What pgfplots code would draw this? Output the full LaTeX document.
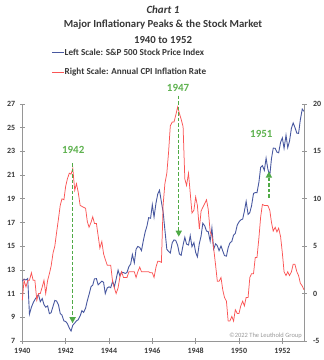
\documentclass[border=0pt]{standalone}
\usepackage{pgfplots}
\pgfplotsset{compat=1.18}
\usepackage{pgfplotstable}
\usetikzlibrary{arrows.meta}
\usepackage{fontspec}
\setmainfont{Carlito}
\definecolor{spblue}{RGB}{72,88,160}
\definecolor{cpired}{RGB}{250,85,85}
\definecolor{agreen}{RGB}{80,170,70}
\definecolor{tgreen}{RGB}{95,178,80}
\definecolor{axgray}{RGB}{150,150,150}
\definecolor{txt}{RGB}{55,55,55}

\pgfplotstableread{
t sp cpi
1940.00 12.05 -0.7
1940.08 12.22 1.4
1940.17 12.15 0.7
1940.25 12.27 1.4
1940.33 9.27 1.4
1940.42 9.85 2.2
1940.50 10.21 1.4
1940.58 10.50 1.4
1940.67 10.73 -0.7
1940.75 10.91 0.0
1940.83 10.32 0.0
1940.92 10.58 0.7
1941.00 10.07 1.4
1941.08 9.85 0.0
1941.17 9.96 1.4
1941.25 9.31 2.1
1941.33 9.39 2.9
1941.42 9.94 4.3
1941.50 10.42 5.0
1941.58 10.38 6.4
1941.67 10.04 7.9
1941.75 9.32 9.3
1941.83 9.19 10.0
1941.92 8.69 9.9
1942.00 8.65 11.3
1942.08 8.47 12.1
1942.17 8.09 12.7
1942.25 7.84 12.6
1942.33 8.33 13.2
1942.42 8.52 10.9
1942.50 8.70 11.6
1942.58 8.79 10.7
1942.67 9.12 9.3
1942.75 9.56 9.2
1942.83 9.41 9.1
1942.92 9.77 9.0
1943.00 10.40 7.6
1943.08 10.92 7.0
1943.17 11.58 7.5
1943.25 11.71 8.1
1943.33 12.25 7.4
1943.42 12.26 7.4
1943.50 11.74 6.1
1943.58 11.88 4.8
1943.67 12.05 5.5
1943.75 11.96 4.2
1943.83 11.00 3.6
1943.92 11.48 3.0
1944.00 11.57 3.0
1944.08 11.50 3.0
1944.17 12.05 1.2
1944.25 11.57 0.6
1944.33 12.22 0.0
1944.42 12.98 0.6
1944.50 12.51 1.7
1944.58 12.81 2.3
1944.67 12.77 1.7
1944.75 12.70 1.7
1944.83 12.78 1.7
1944.92 13.28 2.3
1945.00 13.49 2.3
1945.08 14.30 2.3
1945.17 13.60 2.3
1945.25 14.74 1.7
1945.33 14.98 2.3
1945.42 14.89 2.8
1945.50 14.63 2.3
1945.58 15.42 2.3
1945.67 16.20 2.3
1945.75 16.68 2.3
1945.83 17.41 2.3
1945.92 17.36 2.2
1946.00 18.50 2.2
1946.08 17.46 1.7
1946.17 18.64 2.8
1946.25 19.40 3.4
1946.33 19.72 3.4
1946.42 18.73 3.3
1946.50 17.87 9.4
1946.58 16.39 11.6
1946.67 14.73 12.7
1946.75 14.57 14.9
1946.83 14.42 17.7
1946.92 15.30 18.1
1947.00 15.53 18.1
1947.08 15.49 18.8
1947.17 15.07 19.7
1947.25 14.34 19.0
1947.33 14.23 18.4
1947.42 15.09 17.6
1947.50 15.75 12.1
1947.58 15.18 11.4
1947.67 15.10 12.7
1947.75 15.89 10.6
1947.83 14.96 8.5
1947.92 15.30 8.8
1948.00 14.48 10.2
1948.08 14.10 9.3
1948.17 15.23 6.8
1948.25 15.85 8.7
1948.33 16.94 9.1
1948.42 16.71 9.5
1948.50 16.28 9.9
1948.58 16.23 8.9
1948.67 15.43 6.5
1948.75 16.54 6.1
1948.83 14.75 4.8
1948.92 15.20 3.0
1949.00 15.04 1.3
1949.08 14.62 1.3
1949.17 15.02 1.7
1949.25 14.60 0.4
1949.33 14.21 -0.4
1949.42 14.16 -0.8
1949.50 14.87 -2.9
1949.58 15.27 -2.9
1949.67 15.41 -2.4
1949.75 15.94 -2.9
1949.83 16.08 -1.7
1949.92 16.79 -2.1
1950.00 17.05 -2.1
1950.08 17.22 -1.3
1950.17 17.29 -0.8
1950.25 17.96 -1.3
1950.33 18.78 -0.4
1950.42 17.69 -0.4
1950.50 17.84 1.7
1950.58 18.42 2.1
1950.67 19.45 2.1
1950.75 19.53 3.8
1950.83 19.51 3.8
1950.92 20.41 5.9
1951.00 21.66 8.1
1951.08 21.80 9.4
1951.17 21.40 9.3
1951.25 22.43 9.3
1951.33 21.52 9.3
1951.42 20.96 8.8
1951.50 22.40 7.5
1951.58 23.28 6.6
1951.67 23.26 7.0
1951.75 22.94 6.5
1951.83 22.88 6.9
1951.92 23.77 6.0
1952.00 24.14 4.3
1952.08 23.26 2.3
1952.17 24.37 1.9
1952.25 23.32 2.3
1952.33 23.86 1.9
1952.42 24.96 2.3
1952.50 25.40 3.1
1952.58 25.03 3.1
1952.67 24.54 2.3
1952.75 24.52 1.9
1952.83 25.66 1.1
1952.92 26.57 0.8
1953.00 26.38 0.4
}\data

\begin{document}
\begin{tikzpicture}
\useasboundingbox (0,0) rectangle (324bp,360bp);
\pgfplotsset{
  base/.style={
    at={(22.3bp,19bp)}, anchor=south west,
    scale only axis, width=281.7bp, height=237bp,
    xmin=1940, xmax=1953,
    tick align=center, major tick length=5bp,
    every tick/.style={axgray, line width=0.8pt},
    axis line style={axgray, line width=0.8pt},
    ticklabel style={font=\fontsize{8}{9}\selectfont\bfseries, text=txt},
    /pgf/number format/assume math mode=true,
    /pgf/number format/1000 sep={},
    clip=false,
  }
}
\begin{axis}[base,
  ymin=7, ymax=27, ytick={7,9,...,27},
  xtick={1940,1942,...,1952},
  axis x line*=bottom, axis y line*=left,
  yticklabel style={xshift=-1bp},
  xticklabel style={yshift=-1bp},
]
\addplot[spblue, line width=0.9pt] table[x=t, y=sp] {\data};
\end{axis}
\begin{axis}[base,
  ymin=-5, ymax=20, ytick={-5,0,...,20},
  axis x line=none, axis y line*=right,
  yticklabel style={xshift=3bp},
]
\addplot[cpired, line width=0.75pt] table[x=t, y=cpi] {\data};
\end{axis}
\begin{axis}[base,
  ymin=7, ymax=27, axis lines=none, ticks=none,
]
\draw[agreen, line width=1.4pt, dash pattern=on 3.5pt off 2pt, -{Triangle[length=6bp, width=6bp]}]
  (axis cs:1942.32,22.0) -- (axis cs:1942.32,8.5);
\draw[agreen, line width=1.4pt, dash pattern=on 3.5pt off 2pt, -{Triangle[length=6bp, width=6bp]}]
  (axis cs:1947.22,27.7) -- (axis cs:1947.22,15.8);
\draw[agreen, line width=1.4pt, dash pattern=on 3.5pt off 2pt, -{Triangle[length=6bp, width=6bp]}]
  (axis cs:1951.38,19.1) -- (axis cs:1951.38,21.3);
\node[tgreen, font=\fontsize{11}{12}\selectfont\bfseries] at (axis cs:1942.35,23.1) {1942};
\node[tgreen, font=\fontsize{11}{12}\selectfont\bfseries] at (axis cs:1947.19,28.4) {1947};
\node[tgreen, font=\fontsize{11}{12}\selectfont\bfseries] at (axis cs:1951.03,24.5) {1951};
\end{axis}
% titles and legend
\node[txt, font=\fontsize{11}{13}\selectfont\bfseries\itshape] at (163bp,350bp) {Chart 1};
\node[txt, font=\fontsize{10.8}{13}\selectfont\bfseries] at (163bp,335bp) {Major Inflationary Peaks \& the Stock Market};
\node[txt, font=\fontsize{10.8}{13}\selectfont\bfseries] at (163bp,320bp) {1940 to 1952};
\draw[spblue, line width=0.9pt] (52bp,308bp) -- (64bp,308bp);
\node[txt, anchor=west, inner sep=0pt, font=\fontsize{9.2}{10}\selectfont\bfseries] at (64.5bp,308bp) {Left Scale: S\&P 500 Stock Price Index};
\draw[cpired, line width=0.9pt] (52bp,288bp) -- (64bp,288bp);
\node[txt, anchor=west, inner sep=0pt, font=\fontsize{9.2}{10}\selectfont\bfseries] at (64.5bp,288bp) {Right Scale: Annual CPI Inflation Rate};
\node[gray!80, anchor=east, inner sep=0pt, font=\fontsize{6.5}{7}\selectfont] at (302bp,24.5bp) {©2022 The Leuthold Group};
\end{tikzpicture}
\end{document}
